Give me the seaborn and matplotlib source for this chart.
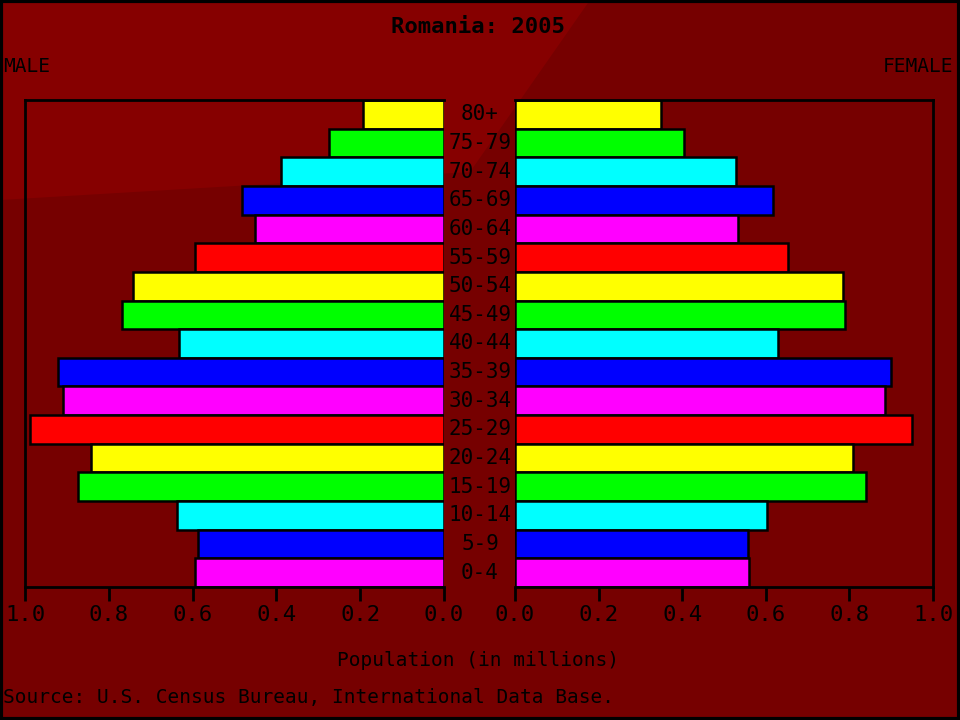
import matplotlib
matplotlib.use("Agg")
import matplotlib.pyplot as plt
import matplotlib.transforms as mtransforms
from matplotlib.patches import Polygon, Rectangle
import seaborn as sns
import pandas as pd

ages = ["80+", "75-79", "70-74", "65-69", "60-64", "55-59", "50-54", "45-49",
        "40-44", "35-39", "30-34", "25-29", "20-24", "15-19", "10-14", "5-9", "0-4"]
male = [0.193, 0.274, 0.389, 0.482, 0.451, 0.594, 0.742, 0.768,
        0.632, 0.921, 0.909, 0.988, 0.842, 0.873, 0.637, 0.587, 0.594]
female = [0.349, 0.404, 0.529, 0.617, 0.533, 0.653, 0.785, 0.789,
          0.629, 0.900, 0.885, 0.950, 0.809, 0.840, 0.603, 0.557, 0.560]
bar_colors = ["#ffff00", "#00ff00", "#00ffff", "#0000ff", "#ff00ff", "#ff0000",
              "#ffff00", "#00ff00", "#00ffff", "#0000ff", "#ff00ff", "#ff0000",
              "#ffff00", "#00ff00", "#00ffff", "#0000ff", "#ff00ff"]
xticks = [0.0, 0.2, 0.4, 0.6, 0.8, 1.0]
title = "Romania: 2005"

df = pd.DataFrame({"age": ages, "male": male, "female": female})
palette = dict(zip(ages, bar_colors))

sns.set_style("white")
plt.rcParams["font.family"] = ["DejaVu Sans Mono", "DejaVu Sans"]

W, H = 960, 720
fig = plt.figure(figsize=(9.6, 7.2), dpi=100)
fig.patch.set_facecolor("#760000")

# lighter background region in top-left (behind everything)
fig.patches.append(Polygon([(0, 1), (590 / W, 1), (470 / W, 1 - 172 / H), (0, 1 - 200 / H)],
                           closed=True, transform=fig.transFigure,
                           facecolor="#860000", edgecolor="none", zorder=-10))
# figure border
fig.patches.append(Rectangle((0.001, 0.001), 0.998, 0.997, transform=fig.transFigure,
                             facecolor="none", edgecolor="black", linewidth=3, zorder=5))

top, bot = 100, 587
axL = fig.add_axes([25 / W, 1 - bot / H, 419 / W, (bot - top) / H])
axR = fig.add_axes([515 / W, 1 - bot / H, 418 / W, (bot - top) / H])

for ax, col in ((axL, "male"), (axR, "female")):
    ax.set_facecolor("none")
    ax.patch.set_visible(False)
    sns.barplot(data=df, y="age", x=col, hue="age", palette=palette, order=ages,
                hue_order=ages, width=1.0, edgecolor="black", linewidth=1.8,
                legend=False, ax=ax, saturation=1)
    ax.set_xticks(xticks)
    ax.set_xticklabels([f"{t:.1f}" for t in xticks])
    ax.set_yticks([])
    ax.set_xlabel("")
    ax.set_ylabel("")
    ax.set_ylim(len(ages) - 0.5, -0.5)
    ax.tick_params(axis="x", bottom=True, direction="out", length=10, width=2,
                   color="black", labelcolor="black", labelsize=16, pad=3)
    for s in ax.spines.values():
        s.set_color("black")
        s.set_linewidth(2)

axL.set_xlim(1.0, 0.0)
axR.set_xlim(0.0, 1.0)
axL.spines["right"].set_visible(False)
axR.spines["left"].set_visible(False)

# age labels centered between the panels
trans = mtransforms.blended_transform_factory(fig.transFigure, axR.transData)
for i, a in enumerate(ages):
    fig.text(480 / W, i, a, transform=trans, ha="center", va="center",
             fontsize=15, color="black")

fig.text(478 / W, 1 - 27 / H, title, ha="center", va="center", fontsize=16,
         fontweight="bold", color="black")
fig.text(3 / W, 1 - 67 / H, "MALE", ha="left", va="center", fontsize=14, color="black")
fig.text(953 / W, 1 - 67 / H, "FEMALE", ha="right", va="center", fontsize=14, color="black")
fig.text(478 / W, 1 - 660 / H, "Population (in millions)", ha="center", va="center",
         fontsize=14, color="black")
fig.text(3 / W, 1 - 697 / H, "Source: U.S. Census Bureau, International Data Base.",
         ha="left", va="center", fontsize=14, color="black")

fig.savefig("out.png", dpi=100, facecolor=fig.get_facecolor())
